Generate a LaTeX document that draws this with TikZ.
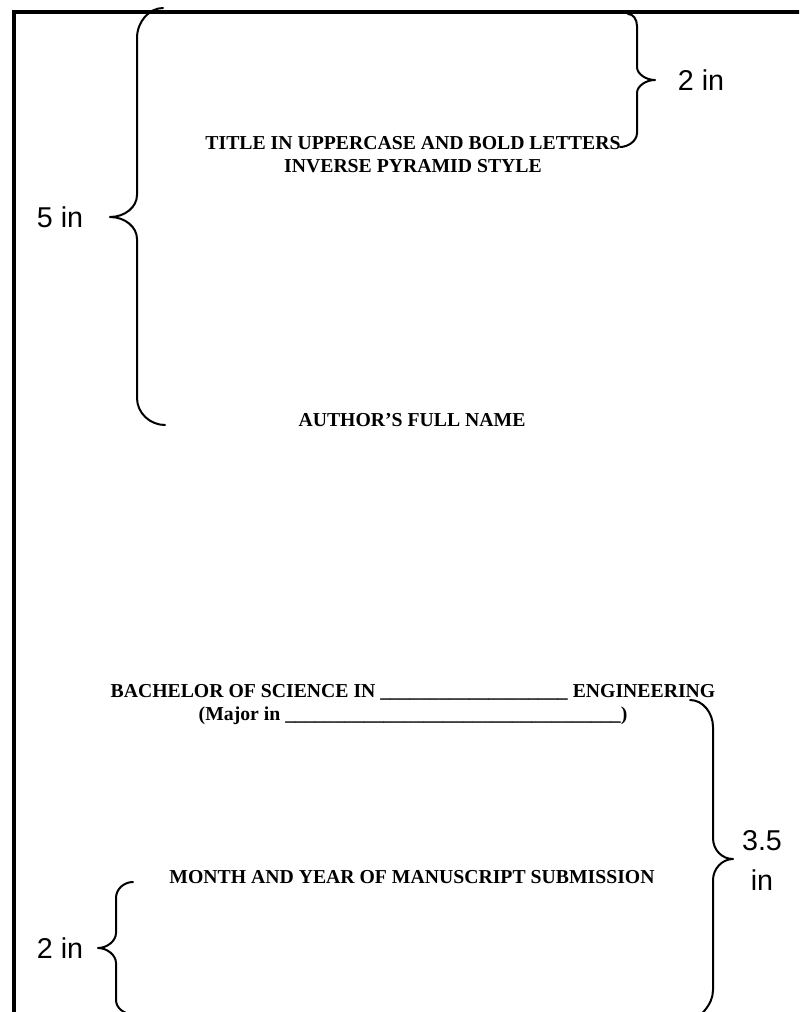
\documentclass[tikz,border=0pt]{standalone}
\usepackage{fontspec}
\setmainfont{Liberation Serif}
\newfontfamily\arialf{Liberation Sans}
\tikzset{
  pagebord/.style={line width=3pt, line cap=rect},
  bline/.style={line width=1.5pt, line cap=round, line join=round},
  bodytext/.style={inner sep=0pt, align=center, font=\bfseries\fontsize{14.8}{17.3}\selectfont},
  dimlabel/.style={inner sep=0pt, align=center, font=\arialf\fontsize{21.5}{30}\selectfont}
}
\begin{document}
\begin{tikzpicture}[x=0.75pt, y=-0.75pt]
\useasboundingbox (0,0) rectangle (799,1012);
\fill[white] (0,0) rectangle (799,1012);
\clip (0,0) rectangle (799,1012);
% page border
\draw[pagebord] (14,1030) -- (14,12) -- (810,12);
% texts
\node[bodytext] (title) at (413,154.5) {TITLE IN UPPERCASE AND BOLD LETTERS\\INVERSE PYRAMID STYLE};
\node[bodytext] (author) at (412,420) {AUTHOR’S FULL NAME};
\node[bodytext] (degree) at (413,705) {BACHELOR OF SCIENCE IN \_\_\_\_\_\_\_\_\_\_\_\_\_\_\_\_\_\_\_ ENGINEERING\\(Major in \_\_\_\_\_\_\_\_\_\_\_\_\_\_\_\_\_\_\_\_\_\_\_\_\_\_\_\_\_\_\_\_\_\_)};
\node[bodytext] (month) at (412,877) {MONTH AND YEAR OF MANUSCRIPT SUBMISSION};
% dimension labels
\node[dimlabel] (lblA) at (60,217) {5 in};
\node[dimlabel] (lblB) at (701,80) {2 in};
\node[dimlabel] (lblC) at (762,860) {3.5\\in};
\node[dimlabel] (lblD) at (60,948) {2 in};
% braces
\draw[bline] (163,8) .. controls (149,8) and (137,22) .. (137,38) -- (137,195)
  .. controls (137,207) and (125,217) .. (110,217)
  .. controls (125,217) and (137,227) .. (137,239)
  -- (137,398) .. controls (137,413) and (150,425) .. (165,425);
\draw[bline] (628,14) .. controls (633,14) and (637,19) .. (637,26) -- (637,67)
  .. controls (637,74) and (646,80) .. (655,80)
  .. controls (646,80) and (637,86) .. (637,93)
  -- (637,133) .. controls (637,141) and (628,147) .. (620,147);
\draw[bline] (690,700) .. controls (703,700) and (713,713) .. (713,727) -- (713,838)
  .. controls (713,850) and (722,859) .. (733,859)
  .. controls (722,859) and (713,869) .. (713,880)
  -- (713,990) .. controls (713,1005) and (700,1018) .. (688,1022);
\draw[bline] (133,882) .. controls (124,882) and (116,889) .. (116,898) -- (116,933)
  .. controls (116,941) and (107,948) .. (98,948)
  .. controls (107,948) and (116,955) .. (116,963)
  -- (116,1000) .. controls (116,1008) and (124,1014) .. (132,1014);
\end{tikzpicture}
\end{document}
